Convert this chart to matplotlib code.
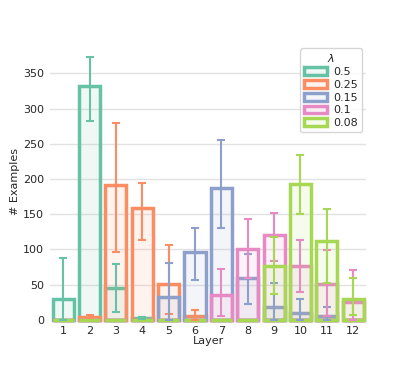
import numpy as np
import matplotlib
matplotlib.use("Agg")
import matplotlib.pyplot as plt
import seaborn as sns
from matplotlib.patches import Patch

layers = [str(i) for i in range(1, 13)]
lambdas = ["0.5", "0.25", "0.15", "0.1", "0.08"]

# mean number of examples per layer, one list per lambda
mean_05 = [30, 332, 45, 2, 0, 0, 0, 0, 0, 0, 0, 0]
mean_025 = [0, 4, 191, 159, 51, 5, 0, 0, 0, 0, 0, 0]
mean_015 = [0, 0, 0, 0, 32, 96, 188, 59, 19, 10, 6, 0]
mean_01 = [0, 0, 0, 0, 0, 0, 35, 100, 121, 77, 51, 26]
mean_008 = [0, 0, 0, 0, 0, 0, 0, 0, 76, 193, 112, 30]

# lower / upper ends of the error bars
lo_05 = [0, 283, 11, 1, 0, 0, 0, 0, 0, 0, 0, 0]
hi_05 = [88, 373, 79, 3.5, 0, 0, 0, 0, 0, 0, 0, 0]
lo_025 = [0, 2, 97, 114, 9, 0, 0, 0, 0, 0, 0, 0]
hi_025 = [0, 7, 279, 194, 106, 14, 0, 0, 0, 0, 0, 0]
lo_015 = [0, 0, 0, 0, 0, 57, 131, 23, 0, 0, 0, 0]
hi_015 = [0, 0, 0, 0, 81, 130, 256, 93, 52, 29, 19, 0]
lo_01 = [0, 0, 0, 0, 0, 0, 5, 59, 83, 39, 6, 0]
hi_01 = [0, 0, 0, 0, 0, 0, 72, 143, 152, 114, 99, 71]
lo_008 = [0, 0, 0, 0, 0, 0, 0, 0, 37, 151, 53, 7]
hi_008 = [0, 0, 0, 0, 0, 0, 0, 0, 118, 234, 157, 59]

means = [mean_05, mean_025, mean_015, mean_01, mean_008]
lows = [lo_05, lo_025, lo_015, lo_01, lo_008]
highs = [hi_05, hi_025, hi_015, hi_01, hi_008]

sns.set_style("whitegrid")
colors = sns.color_palette("Set2", 5)

fig = plt.figure(figsize=(4.07, 3.66), dpi=100)
ax = fig.add_axes([0.123, 0.126, 0.777, 0.754])

x = np.arange(len(layers))
for k, lam in enumerate(lambdas):
    c = colors[k]
    m = np.array(means[k], dtype=float)
    lo = np.array(lows[k], dtype=float)
    hi = np.array(highs[k], dtype=float)
    ax.bar(x, m, width=0.8, facecolor=(*c, 0.1), edgecolor=c,
           linewidth=2.5, zorder=2 + k * 0.1, clip_on=False)
    sel = hi > 0
    ax.errorbar(x[sel], m[sel], yerr=[m[sel] - lo[sel], hi[sel] - m[sel]],
                fmt="none", ecolor=c, elinewidth=1.5, capsize=3,
                capthick=1.5, zorder=3 + k * 0.1)

ax.set_xlim(-0.5, len(layers) - 0.5)
ax.set_ylim(0, 392)
ax.set_xticks(x)
ax.set_xticklabels(layers)
ax.set_yticks([0, 50, 100, 150, 200, 250, 300, 350])
ax.tick_params(labelsize=8, pad=1)
ax.grid(axis="x", visible=False)
ax.grid(axis="y", color="#e2e2e2", linewidth=1)
for s in ax.spines.values():
    s.set_visible(False)
ax.set_xlabel("Layer", fontsize=8, labelpad=0)
ax.set_ylabel("# Examples", fontsize=8, labelpad=2)

handles = [Patch(facecolor=(*colors[k], 0.1), edgecolor=colors[k], linewidth=2.5)
           for k in range(len(lambdas))]
ax.legend(handles, lambdas, title="$\\lambda$", fontsize=8, title_fontsize=8,
          loc="upper right", borderaxespad=0.4, handlelength=2.0,
          handleheight=0.7, labelspacing=0.25, handletextpad=0.6,
          borderpad=0.35)

fig.savefig("out.png", dpi=100)
